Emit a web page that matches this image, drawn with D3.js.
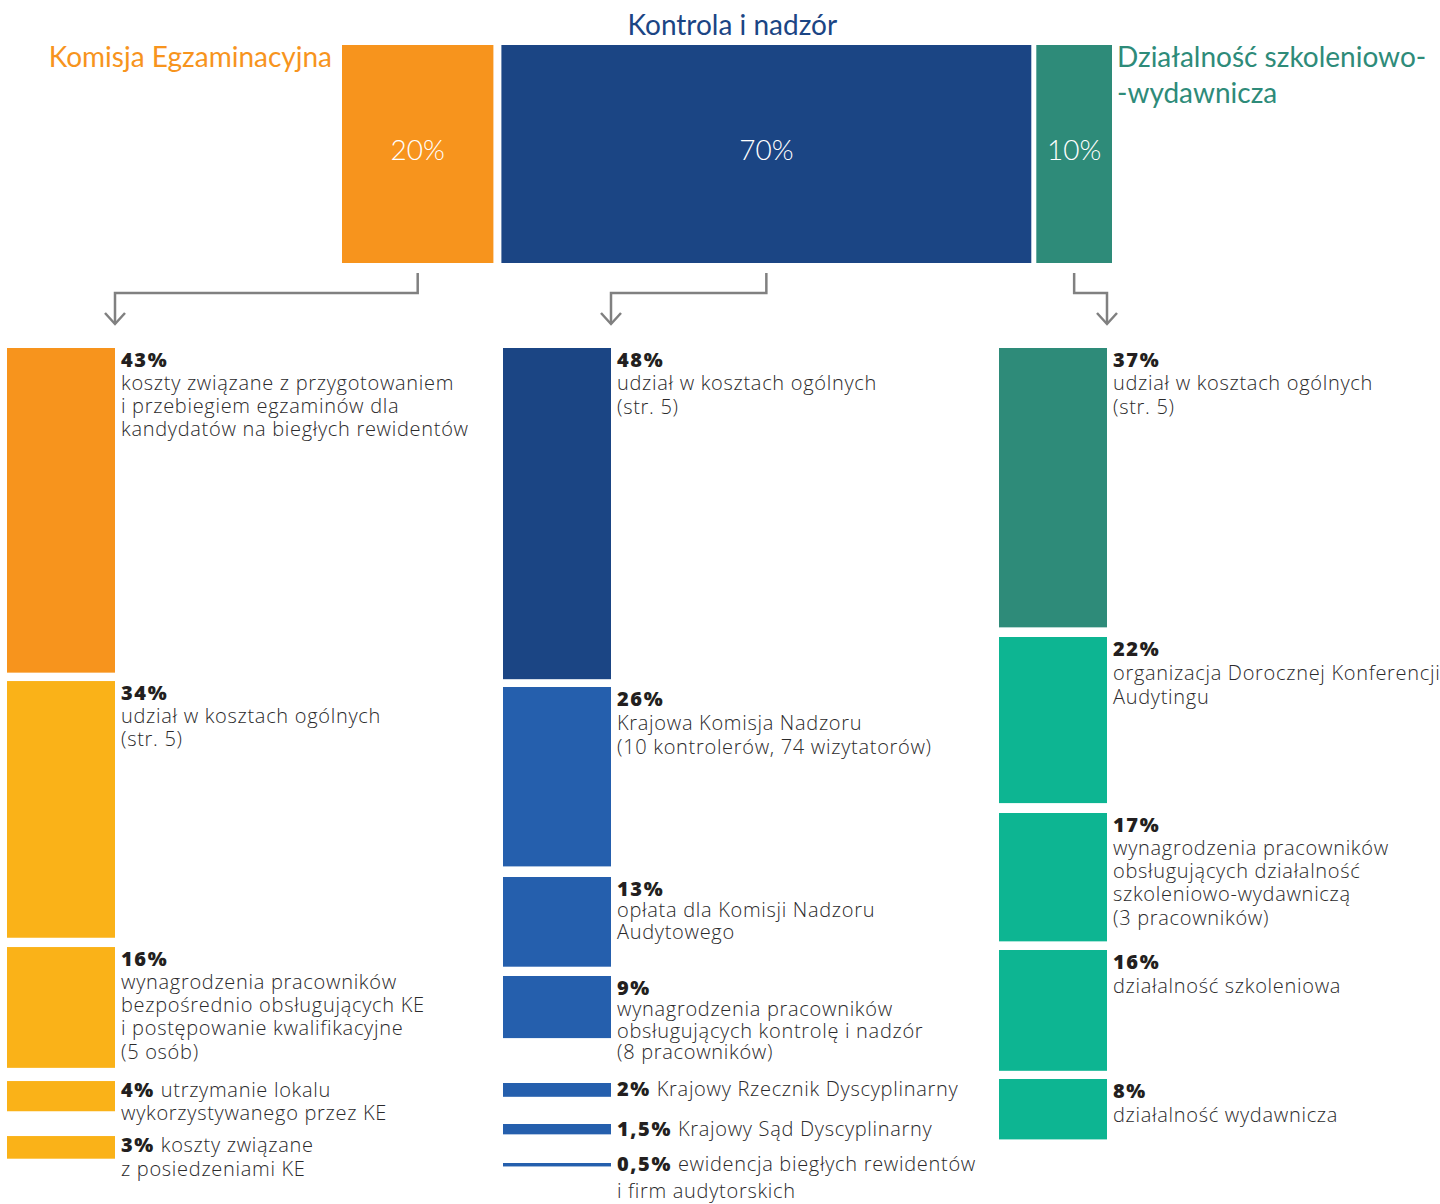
<!DOCTYPE html>
<html><head><meta charset="utf-8">
<script src="https://cdn.jsdelivr.net/npm/d3@7"></script>
<style>
html,body{margin:0;padding:0;background:#fff;}
svg{display:block;}
</style></head>
<body>
<svg id="chart" width="1440" height="1204"></svg>
<script>
// ---------- DATA ----------
const topCategories = ["Komisja Egzaminacyjna", "Kontrola i nadzór", "Działalność szkoleniowo-wydawnicza"];
const topValues = [20, 70, 10];

const keValues = [43, 34, 16, 4, 3];
const keLabels = [
  ["koszty związane z przygotowaniem", "i przebiegiem egzaminów dla", "kandydatów na biegłych rewidentów"],
  ["udział w kosztach ogólnych", "(str. 5)"],
  ["wynagrodzenia pracowników", "bezpośrednio obsługujących KE", "i postępowanie kwalifikacyjne", "(5 osób)"],
  ["utrzymanie lokalu", "wykorzystywanego przez KE"],
  ["koszty związane", "z posiedzeniami KE"]
];

const knValues = [48, 26, 13, 9, 2, 1.5, 0.5];
const knLabels = [
  ["udział w kosztach ogólnych", "(str. 5)"],
  ["Krajowa Komisja Nadzoru", "(10 kontrolerów, 74 wizytatorów)"],
  ["opłata dla Komisji Nadzoru", "Audytowego"],
  ["wynagrodzenia pracowników", "obsługujących kontrolę i nadzór", "(8 pracowników)"],
  ["Krajowy Rzecznik Dyscyplinarny"],
  ["Krajowy Sąd Dyscyplinarny"],
  ["ewidencja biegłych rewidentów", "i firm audytorskich"]
];

const dsValues = [37, 22, 17, 16, 8];
const dsLabels = [
  ["udział w kosztach ogólnych", "(str. 5)"],
  ["organizacja Dorocznej Konferencji", "Audytingu"],
  ["wynagrodzenia pracowników", "obsługujących działalność", "szkoleniowo-wydawniczą", "(3 pracowników)"],
  ["działalność szkoleniowa"],
  ["działalność wydawnicza"]
];

// ---------- LAYOUT / STYLE ----------
const topColors = ["#F7941D", "#1B4584", "#2E8B79"];
const colColors = [
  ["#F7941D", "#FAB218", "#FAB218", "#FAB218", "#FAB218"],
  ["#1B4584", "#255FAD", "#255FAD", "#255FAD", "#255FAD", "#255FAD", "#255FAD"],
  ["#2E8B79", "#0DB592", "#0DB592", "#0DB592", "#0DB592"]
];
const colGaps = [
  [8.4, 9.3, 13.2, 24.8],
  [7.8, 10.6, 9.3, 44.9, 27.2, 28.65],
  [9.65, 9.9, 8.65, 8.2]
];
const colInline = [
  [false, false, false, true, true],
  [false, false, false, false, true, true, true],
  [false, false, false, false, false]
];
const colLineH = [
  [23.3, 23.3, 23.3, 23, 24],
  [23.5, 24, 21.5, 21.5, 23, 23, 27],
  [23.5, 24, 23.3, 24, 24]
];

const svg = d3.select("#chart");
const HFONT = "Lato, 'Open Sans', sans-serif";
const FONT = "'Open Sans', 'Noto Sans', sans-serif";
const TEXT = "#2b2a2b";

// top bars
const topX0 = 342, topY = 45, topH = 218;
const topGaps = [8, 5];
const xTop = d3.scaleLinear().domain([0, 100]).range([0, 757]);
let acc = topX0;
const topBars = topValues.map((v, i) => {
  const x = acc, w = xTop(v);
  acc += w + (topGaps[i] || 0);
  return {v, x, w, i};
});
svg.selectAll("rect.top").data(topBars).join("rect")
  .attr("class", "top")
  .attr("x", d => d.x).attr("y", topY)
  .attr("width", d => d.w).attr("height", topH)
  .attr("fill", d => topColors[d.i]);
svg.selectAll("text.topv").data(topBars).join("text")
  .attr("class", "topv")
  .attr("x", d => d.x + d.w / 2).attr("y", topY + 115)
  .attr("text-anchor", "middle")
  .attr("font-family", HFONT).attr("font-weight", 300).attr("font-size", 28)
  .attr("fill", "#fff")
  .text(d => d.v + "%");

// headings
svg.append("text")
  .attr("x", topBars[0].x - 10).attr("y", 67)
  .attr("text-anchor", "end")
  .attr("font-family", HFONT).attr("font-size", 28).attr("fill", topColors[0])
  .text(topCategories[0]);
svg.append("text")
  .attr("x", topBars[1].x + topBars[1].w / 2 - 34).attr("y", 35)
  .attr("text-anchor", "middle")
  .attr("font-family", HFONT).attr("font-size", 28).attr("fill", topColors[1])
  .text(topCategories[1]);
const h3 = svg.append("text")
  .attr("font-family", HFONT).attr("font-size", 28).attr("fill", topColors[2]);
const parts = topCategories[2].split("-");
h3.append("tspan").attr("x", topBars[2].x + topBars[2].w + 5).attr("y", 67).text(parts[0] + "-");
h3.append("tspan").attr("x", topBars[2].x + topBars[2].w + 5).attr("y", 103).text("-" + parts[1]);

// columns
const colX = [7, 503, 999];
const colW = 108;
const colScales = [
  d3.scaleLinear().domain([0, 100]).range([0, 755]),
  d3.scaleLinear().domain([0, 100]).range([0, 690]),
  d3.scaleLinear().domain([0, 100]).range([0, 755])
];
const colValues = [keValues, knValues, dsValues];
const colLabels = [keLabels, knLabels, dsLabels];
const colTop = 348;
const fmt = v => String(v).replace(".", ",") + "%";

colValues.forEach((vals, c) => {
  const s = colScales[c];
  let y = colTop;
  const items = vals.map((v, i) => {
    const h = s(v);
    const it = {v, i, y, h};
    y += h + (colGaps[c][i] || 0);
    return it;
  });
  const g = svg.append("g");
  g.selectAll("rect").data(items).join("rect")
    .attr("x", colX[c]).attr("y", d => d.y)
    .attr("width", colW).attr("height", d => d.h)
    .attr("fill", d => colColors[c][d.i]);

  const tx = colX[c] + colW + 6;
  items.forEach(d => {
    const lines = colLabels[c][d.i];
    const inline = colInline[c][d.i];
    const lh = colLineH[c][d.i];
    let base;
    if (inline && c === 1) base = d.y + d.h / 2 + 6.5;
    else if (inline) base = d.y + 15.5;
    else base = d.y + 18.5;
    const t = g.append("text")
      .attr("font-family", FONT).attr("font-size", 20).attr("fill", TEXT);
    const first = t.append("tspan").attr("x", tx).attr("y", base);
    first.append("tspan").attr("font-weight", 800).attr("fill", "#231F20")
      .attr("letter-spacing", 1.6).text(fmt(d.v));
    let rest = lines;
    if (inline) {
      first.append("tspan").attr("font-weight", 300).attr("letter-spacing", 0.7).text(" " + lines[0]);
      rest = lines.slice(1);
    }
    rest.forEach((ln, k) => {
      t.append("tspan").attr("x", tx).attr("y", base + lh * (k + 1))
        .attr("font-weight", 300).attr("letter-spacing", 0.7).text(ln);
    });
  });

  // arrow from top bar to column
  const tb = topBars[c];
  const sx = tb.x + tb.w / 2;
  const ex = colX[c] + colW;
  const path = d3.path();
  path.moveTo(sx, 273);
  path.lineTo(sx, 293);
  path.lineTo(ex, 293);
  path.lineTo(ex, 324);
  svg.append("path").attr("d", path.toString())
    .attr("fill", "none").attr("stroke", "#808080").attr("stroke-width", 2.5);
  const ah = d3.path();
  ah.moveTo(ex - 10, 313);
  ah.lineTo(ex, 324);
  ah.lineTo(ex + 10, 313);
  svg.append("path").attr("d", ah.toString())
    .attr("fill", "none").attr("stroke", "#808080").attr("stroke-width", 2.5);
});
</script>
</body></html>
